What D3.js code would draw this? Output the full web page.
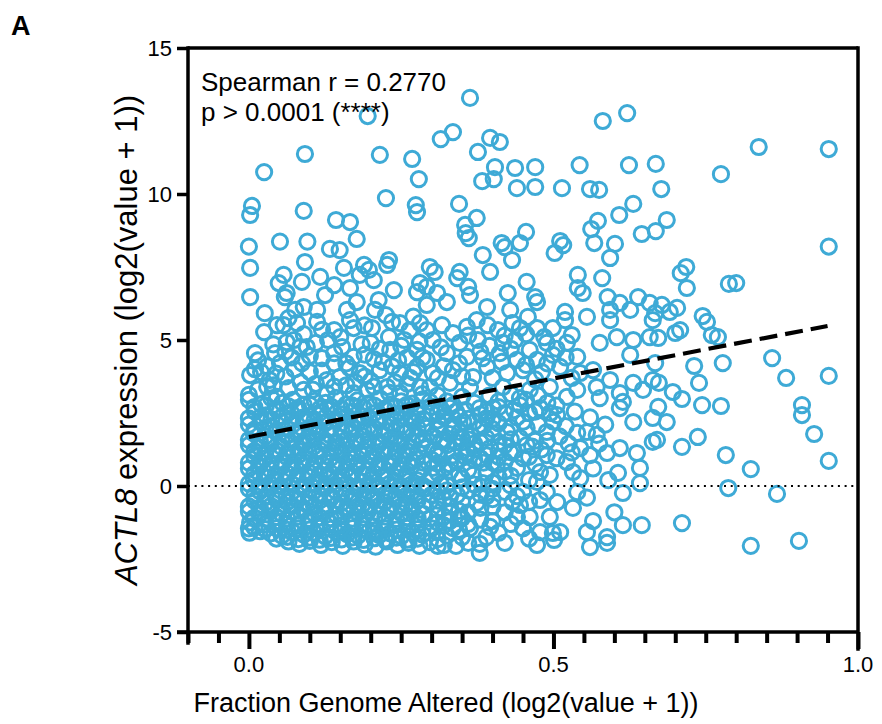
<!DOCTYPE html>
<html>
<head>
<meta charset="utf-8">
<script src="https://cdn.jsdelivr.net/npm/d3@7"></script>
<style>
  body { margin: 0; background: #fff; }
  svg text { font-family: "Liberation Sans", Arial, Helvetica, sans-serif; fill: #000; }
</style>
</head>
<body>
<div id="my_dataviz"></div>
<script>
// axis settings
var xDomain = [-0.1, 1.0];
var yDomain = [-5, 15];
var xTickLabels = ["0.0", "0.5", "1.0"];
var xMajorTicks = [0, 0.5, 1.0];
var yTicks = [-5, 0, 5, 10, 15];

// stats annotation
var statLines = ["Spearman r = 0.2770", "p > 0.0001 (****)"];

// linear fit drawn as the dashed line
var fitIntercept = 1.68, fitSlope = 4.0, fitRange = [0, 0.95];

// [fraction genome altered, ACTL8 expression] -- sparse top part
var topPoints = [
  [0.195,12.67],[0.363,13.29],[0.315,11.88],[0.335,12.12],[0.396,11.92],[0.412,11.78],[0.376,11.44],
  [0.092,11.37],[0.215,11.34],[0.268,11.2],[0.025,10.75],[0.279,10.51],[0.404,10.92],[0.437,10.89],
  [0.383,10.44],[0.402,10.51],[0.44,10.2],[0.225,9.86],[0.345,9.66],[0.274,9.62],[0.276,9.38],
  [0.005,9.59],[0.002,9.28],[0.09,9.42],[0.143,9.11],[0.166,9.04],[0.374,9.18],[0.355,8.94],
  [0.356,8.66],[0.361,8.49],[0.0,8.2],[0.051,8.37],[0.096,8.37],[0.177,8.46],[0.133,8.12],
  [0.149,8.08],[0.415,8.32],[0.42,8.18],[0.445,8.32],[0.516,8.25],[0.502,7.98],
  [0.581,12.5],[0.621,12.77],[0.837,11.61],[0.952,11.54],[0.775,10.68],[0.543,10.99],[0.624,10.99],
  [0.668,11.03],[0.47,10.92],[0.47,10.24],[0.514,10.2],[0.56,10.17],[0.575,10.14],[0.677,10.17],
  [0.631,9.66],[0.608,9.28],[0.686,9.11],[0.573,9.08],[0.562,8.8],[0.455,8.7],[0.645,8.63],
  [0.668,8.73],[0.511,8.39],[0.567,8.32],[0.601,8.29],[0.952,8.2]
];

// upper middle band, roughly 3 to 8
var upperPoints = [
  [0.002,7.47],[0.002,6.47],[0.092,7.67],[0.156,7.47],[0.117,7.16],[0.057,7.23],[0.049,6.95],
  [0.087,6.99],[0.062,6.61],[0.059,6.47],[0.14,6.88],[0.125,6.54],[0.166,6.78],[0.189,7.57],
  [0.197,7.4],[0.182,7.23],[0.205,7.05],[0.227,7.57],[0.23,7.74],[0.238,6.71],[0.281,6.95],
  [0.276,6.64],[0.026,5.92],[0.076,6.03],[0.09,6.13],[0.112,6.03],[0.177,6.3],[0.213,6.37],
  [0.207,6.03],[0.161,6.03],[0.025,5.27],[0.057,5.51],[0.046,5.51],[0.079,5.58],[0.112,5.62],
  [0.14,5.34],[0.166,5.68],[0.172,5.41],[0.202,5.41],[0.235,5.62],[0.248,5.58],[0.264,5.34],
  [0.281,5.58],[0.01,4.55],[0.043,4.55],[0.074,5.0],[0.084,4.76],[0.095,4.76],[0.062,4.93],
  [0.153,4.76],[0.172,4.42],[0.232,4.66],[0.255,5.0],[0.276,4.66],[0.051,4.21],[0.087,4.21],
  [0.12,4.38],[0.002,3.8],[0.034,3.63],[0.03,3.39],[0.0,3.12],[0.046,3.05],[0.09,3.29],
  [0.128,3.63],[0.149,3.73],[0.182,3.87],[0.215,3.97],[0.248,3.87],[0.276,4.08],[0.194,3.29],
  [0.227,3.39],[0.128,3.18],[0.172,3.18],[0.248,3.18],[0.281,3.39],
  [0.01,4.0],[0.06,3.75],[0.1,3.9],[0.11,3.5],[0.16,3.45],[0.2,3.6],[0.24,3.55],[0.265,3.7],
  [0.14,4.2],[0.19,4.5],[0.22,4.25],[0.26,4.4],[0.07,4.4],[0.03,4.1],[0.11,4.9],[0.2,4.9],
  [0.23,5.1],[0.28,4.95],[0.13,5.0],
  [0.384,7.91],[0.396,7.33],[0.432,7.74],[0.593,7.81],[0.54,7.23],[0.58,7.12],[0.54,6.78],
  [0.548,6.61],[0.297,7.5],[0.305,7.33],[0.346,7.33],[0.342,7.12],[0.292,6.82],[0.309,6.61],
  [0.36,6.82],[0.363,6.54],[0.456,6.99],[0.425,6.61],[0.47,6.47],[0.473,6.3],[0.589,6.47],
  [0.609,6.27],[0.639,6.47],[0.658,6.27],[0.593,6.03],[0.626,6.03],[0.663,5.68],[0.325,6.3],
  [0.292,6.2],[0.391,6.13],[0.429,6.03],[0.458,5.79],[0.519,5.96],[0.519,5.68],[0.555,5.79],
  [0.593,5.68],[0.292,5.34],[0.317,5.51],[0.335,5.24],[0.358,5.45],[0.374,5.68],[0.392,5.51],
  [0.409,5.34],[0.433,5.58],[0.445,5.41],[0.473,5.41],[0.499,5.41],[0.53,5.17],[0.576,4.9],
  [0.604,5.1],[0.631,5.0],[0.658,5.1],[0.302,5.0],[0.346,4.9],[0.376,5.0],[0.417,4.9],
  [0.437,5.0],[0.461,4.66],[0.489,4.9],[0.522,4.9],[0.292,4.32],[0.325,4.55],[0.358,4.42],
  [0.384,4.38],[0.412,4.55],[0.44,4.32],[0.473,4.32],[0.499,4.49],[0.539,4.42],[0.626,4.49],
  [0.302,3.87],[0.335,3.97],[0.368,3.73],[0.391,4.08],[0.424,3.87],[0.45,3.97],[0.481,3.9],
  [0.511,4.08],[0.544,3.87],[0.565,3.97],[0.593,3.63],[0.631,3.53],[0.663,3.63],[0.297,3.39],
  [0.33,3.53],[0.363,3.39],[0.417,3.39],[0.461,3.29],[0.494,3.39],[0.539,3.29],[0.571,3.39],
  [0.609,3.18],[0.647,3.29]
];

// extra points where the cloud is crowded between 3 and 6
var upperFill = [
  [0.015,3.3],[0.04,3.45],[0.065,3.35],[0.085,3.55],[0.105,3.3],[0.14,3.4],[0.175,3.55],[0.205,3.4],
  [0.23,3.2],[0.26,3.5],[0.285,3.15],[0.02,3.9],[0.045,3.85],[0.075,4.0],[0.12,3.95],[0.165,4.05],
  [0.19,3.75],[0.235,4.1],[0.27,3.9],[0.015,4.3],[0.06,4.6],[0.1,4.45],[0.14,4.55],[0.16,4.2],
  [0.205,4.35],[0.245,4.3],[0.285,4.4],[0.04,4.85],[0.09,5.2],[0.15,5.1],[0.185,4.85],[0.215,4.7],
  [0.25,4.8],[0.19,5.5],[0.12,5.35],[0.065,5.75],[0.27,5.8],[0.225,5.85],
  [0.31,3.7],[0.32,4.1],[0.345,4.2],[0.35,3.75],[0.38,4.6],[0.4,3.7],[0.415,4.25],[0.43,4.7],
  [0.455,4.15],[0.47,3.65],[0.49,4.2],[0.505,4.7],[0.315,4.75],[0.36,5.15],[0.395,4.8],[0.42,5.15],
  [0.455,5.2],[0.485,5.1],[0.52,4.4],[0.53,3.7]
];

// dense core, left part of the cloud
var corePoints = [
  [0.0,2.95],[0.02,2.8],[0.037,3.0],[0.055,2.85],[0.072,2.95],[0.09,2.78],[0.108,2.92],[0.126,2.85],
  [0.143,3.02],[0.16,2.8],[0.178,2.93],[0.197,2.83],[0.215,3.0],[0.232,2.78],[0.25,2.9],[0.268,2.82],[0.285,2.97],
  [0.01,2.55],[0.028,2.42],[0.046,2.6],[0.063,2.48],[0.081,2.58],[0.099,2.4],[0.117,2.52],[0.134,2.62],
  [0.152,2.45],[0.17,2.55],[0.188,2.38],[0.206,2.5],[0.224,2.6],[0.241,2.44],[0.259,2.56],[0.277,2.47],[0.31,2.52],[0.323,2.4],
  [0.0,2.1],[0.019,2.2],[0.036,2.05],[0.054,2.18],[0.072,2.1],[0.09,2.22],[0.107,2.03],[0.125,2.15],
  [0.144,2.25],[0.161,2.08],[0.179,2.17],[0.196,2.02],[0.214,2.2],[0.233,2.12],[0.25,2.05],[0.267,2.24],[0.286,2.1],[0.352,2.2],
  [0.008,1.8],[0.027,1.7],[0.045,1.85],[0.062,1.72],[0.08,1.78],[0.098,1.68],[0.116,1.84],[0.133,1.74],
  [0.151,1.66],[0.169,1.8],[0.187,1.7],[0.205,1.86],[0.222,1.75],[0.24,1.67],[0.258,1.82],[0.276,1.73],[0.303,1.7],[0.33,1.78],[0.365,1.72],
  [0.0,1.4],[0.018,1.32],[0.036,1.45],[0.053,1.35],[0.071,1.28],[0.089,1.43],[0.106,1.34],[0.124,1.46],
  [0.142,1.3],[0.16,1.38],[0.177,1.47],[0.195,1.33],[0.213,1.42],[0.231,1.28],[0.249,1.4],[0.266,1.32],[0.284,1.45],[0.34,1.5],
  [0.009,1.02],[0.026,0.95],[0.044,1.08],[0.063,0.98],[0.081,1.05],[0.097,0.92],[0.115,1.02],[0.134,0.96],
  [0.152,1.08],[0.168,0.94],[0.186,1.04],[0.204,0.97],[0.221,1.1],[0.239,0.95],[0.257,1.03],[0.275,0.92],[0.312,1.02],[0.355,1.0],[0.38,0.95],
  [0.0,0.6],[0.017,0.68],[0.035,0.56],[0.053,0.65],[0.07,0.58],[0.088,0.7],[0.107,0.6],[0.125,0.54],
  [0.143,0.66],[0.16,0.58],[0.178,0.7],[0.196,0.55],[0.213,0.63],[0.231,0.72],[0.248,0.57],[0.266,0.66],[0.283,0.55],[0.32,0.6],
  [0.008,0.22],[0.026,0.3],[0.043,0.18],[0.061,0.27],[0.08,0.2],[0.097,0.32],[0.115,0.17],[0.133,0.26],
  [0.151,0.2],[0.169,0.3],[0.186,0.15],[0.204,0.25],[0.222,0.32],[0.24,0.18],[0.258,0.27],[0.276,0.2],[0.3,0.3],[0.35,0.25],[0.41,0.3],
  [0.0,-0.1],[0.018,-0.18],[0.035,-0.06],[0.052,-0.15],[0.07,-0.22],[0.089,-0.1],[0.106,-0.2],[0.124,-0.08],
  [0.142,-0.16],[0.16,-0.24],[0.178,-0.1],[0.195,-0.18],[0.213,-0.05],[0.231,-0.2],[0.249,-0.12],[0.267,-0.22],[0.285,-0.1],[0.31,-0.2],[0.36,-0.15],
  [0.009,-0.5],[0.027,-0.58],[0.045,-0.45],[0.063,-0.55],[0.08,-0.48],[0.098,-0.6],[0.116,-0.5],[0.134,-0.44],
  [0.152,-0.58],[0.17,-0.5],[0.187,-0.62],[0.205,-0.47],[0.223,-0.55],[0.24,-0.44],[0.258,-0.6],[0.277,-0.5],[0.32,-0.45],
  [0.0,-0.88],[0.018,-0.95],[0.036,-0.85],[0.054,-0.96],[0.071,-0.88],[0.089,-0.82],[0.107,-0.95],[0.125,-0.87],
  [0.143,-0.98],[0.161,-0.84],[0.179,-0.92],[0.196,-0.86],[0.214,-0.97],[0.232,-0.85],[0.25,-0.93],[0.268,-0.84],[0.286,-0.95],[0.345,-0.85],
  [0.002,-1.25],[0.026,-1.32],[0.045,-1.22],[0.062,-1.3],[0.08,-1.35],[0.098,-1.24],[0.116,-1.32],[0.133,-1.27],
  [0.151,-1.36],[0.169,-1.23],[0.187,-1.3],[0.205,-1.38],[0.223,-1.25],[0.241,-1.33],[0.259,-1.22],[0.277,-1.3],[0.31,-1.25],
  [0.0,-1.45],[0.001,-1.6],[0.018,-1.55],[0.036,-1.62],[0.054,-1.7],[0.072,-1.58],[0.09,-1.66],[0.107,-1.6],
  [0.125,-1.72],[0.143,-1.57],[0.161,-1.65],[0.179,-1.7],[0.197,-1.56],[0.214,-1.68],[0.232,-1.62],[0.25,-1.72],[0.268,-1.58],[0.285,-1.66],
  [0.065,-1.9],[0.083,-1.98],[0.1,-1.88],[0.118,-2.02],[0.136,-1.92],[0.154,-2.05],[0.172,-1.9],[0.19,-2.0],
  [0.208,-2.08],[0.226,-1.9],[0.244,-2.02],[0.262,-1.95],[0.28,-2.05]
];

// second staggered layer in the core, where the rings overlap into a solid patch
var coreFill = [
  [0.009,2.7],[0.028,2.76],[0.046,2.66],[0.064,2.74],[0.081,2.68],[0.1,2.78],[0.117,2.66],[0.135,2.72],
  [0.152,2.64],[0.169,2.76],[0.188,2.69],[0.206,2.75],[0.223,2.65],[0.241,2.71],[0.259,2.78],[0.276,2.67],[0.3,2.72],[0.33,2.68],
  [0.0,2.32],[0.019,2.36],[0.037,2.28],[0.055,2.38],[0.072,2.3],[0.09,2.35],[0.108,2.27],[0.126,2.36],
  [0.143,2.3],[0.161,2.38],[0.179,2.29],[0.197,2.34],[0.215,2.28],[0.232,2.37],[0.25,2.31],[0.268,2.36],[0.286,2.29],[0.345,2.38],[0.39,2.32],
  [0.009,1.93],[0.027,1.98],[0.045,1.9],[0.063,1.97],[0.081,1.91],[0.099,1.99],[0.116,1.92],[0.134,1.96],
  [0.152,1.89],[0.17,1.98],[0.188,1.92],[0.206,1.97],[0.224,1.9],[0.242,1.96],[0.26,1.91],[0.277,1.99],[0.31,1.93],[0.335,2.0],[0.4,1.95],
  [0.0,1.58],[0.018,1.55],[0.036,1.6],[0.054,1.53],[0.072,1.59],[0.09,1.54],[0.107,1.61],[0.125,1.56],
  [0.143,1.52],[0.161,1.6],[0.178,1.55],[0.196,1.58],[0.214,1.52],[0.232,1.6],[0.25,1.56],[0.268,1.54],[0.286,1.6],[0.32,1.55],[0.35,1.62],[0.38,1.5],
  [0.009,1.2],[0.027,1.16],[0.045,1.22],[0.063,1.15],[0.081,1.21],[0.098,1.17],[0.116,1.23],[0.134,1.16],
  [0.152,1.2],[0.17,1.14],[0.188,1.22],[0.205,1.18],[0.223,1.24],[0.241,1.15],[0.259,1.21],[0.277,1.17],[0.305,1.22],[0.35,1.18],[0.37,1.25],[0.41,1.2],
  [0.0,0.8],[0.018,0.84],[0.036,0.78],[0.054,0.82],[0.071,0.77],[0.089,0.85],[0.107,0.79],[0.125,0.83],
  [0.143,0.76],[0.161,0.84],[0.179,0.8],[0.197,0.86],[0.214,0.78],[0.232,0.83],[0.25,0.77],[0.268,0.84],[0.286,0.8],[0.31,0.78],[0.34,0.84],[0.4,0.8],
  [0.009,0.42],[0.027,0.46],[0.044,0.4],[0.062,0.45],[0.08,0.39],[0.098,0.47],[0.116,0.41],[0.134,0.44],
  [0.152,0.38],[0.17,0.46],[0.187,0.42],[0.205,0.45],[0.223,0.39],[0.241,0.47],[0.259,0.41],[0.277,0.44],[0.31,0.45],[0.345,0.4],[0.42,0.5],
  [0.0,0.08],[0.017,0.02],[0.035,0.07],[0.052,0.0],[0.071,0.06],[0.089,0.03],[0.106,0.09],[0.124,0.01],
  [0.142,0.05],[0.16,0.08],[0.178,0.0],[0.196,0.06],[0.213,0.03],[0.231,0.08],[0.249,0.01],[0.267,0.06],[0.285,0.02],[0.315,0.07],[0.37,0.05],[0.4,0.12],
  [0.009,-0.32],[0.027,-0.36],[0.044,-0.3],[0.062,-0.35],[0.08,-0.29],[0.098,-0.37],[0.116,-0.31],[0.134,-0.34],
  [0.152,-0.28],[0.17,-0.36],[0.188,-0.31],[0.205,-0.35],[0.223,-0.29],[0.241,-0.37],[0.259,-0.32],[0.277,-0.34],[0.3,-0.3],[0.33,-0.38],[0.39,-0.35],
  [0.0,-0.7],[0.018,-0.74],[0.036,-0.68],[0.054,-0.73],[0.071,-0.67],[0.089,-0.75],[0.107,-0.69],[0.125,-0.72],
  [0.143,-0.66],[0.161,-0.74],[0.179,-0.7],[0.197,-0.73],[0.214,-0.67],[0.232,-0.75],[0.25,-0.69],[0.268,-0.72],[0.286,-0.68],[0.33,-0.7],[0.38,-0.75],
  [0.009,-1.08],[0.027,-1.12],[0.045,-1.06],[0.063,-1.11],[0.081,-1.05],[0.099,-1.13],[0.116,-1.07],[0.134,-1.1],
  [0.152,-1.04],[0.17,-1.12],[0.188,-1.08],[0.206,-1.11],[0.224,-1.05],[0.242,-1.13],[0.26,-1.07],[0.277,-1.1],[0.32,-1.05],[0.35,-1.1],
  [0.009,-1.42],[0.027,-1.48],[0.045,-1.44],[0.063,-1.5],[0.081,-1.45],[0.099,-1.49],[0.116,-1.43],[0.134,-1.47],
  [0.152,-1.5],[0.17,-1.44],[0.188,-1.48],[0.206,-1.52],[0.224,-1.45],[0.242,-1.49],[0.26,-1.43],[0.277,-1.48],[0.3,-1.45],[0.345,-1.5],
  [0.045,-1.8],[0.063,-1.74],[0.081,-1.82],[0.099,-1.77],[0.116,-1.84],[0.134,-1.78],[0.152,-1.83],[0.17,-1.76],
  [0.188,-1.85],[0.206,-1.79],[0.224,-1.83],[0.242,-1.77],[0.26,-1.84],[0.277,-1.8],[0.31,-1.82]
];

// right half of the cloud below 3
var lowerPoints = [
  [0.297,2.88],[0.335,2.77],[0.379,2.67],[0.401,2.67],[0.445,2.77],[0.478,2.67],[0.506,2.43],[0.445,3.01],
  [0.522,3.05],[0.576,3.01],[0.609,2.67],[0.631,2.19],[0.663,2.33],[0.614,2.88],[0.292,1.99],[0.314,2.09],
  [0.346,1.85],[0.379,1.99],[0.424,1.85],[0.456,1.99],[0.489,1.85],[0.539,1.82],[0.555,1.85],[0.571,1.75],
  [0.544,1.3],[0.56,1.06],[0.588,1.13],[0.609,1.3],[0.637,1.13],[0.663,1.51],[0.292,1.3],[0.325,1.4],
  [0.358,1.3],[0.396,1.3],[0.429,1.16],[0.456,1.4],[0.489,1.06],[0.522,0.82],[0.302,0.62],[0.342,0.82],
  [0.368,0.38],[0.407,0.72],[0.44,0.62],[0.478,0.48],[0.494,0.38],[0.532,0.48],[0.544,0.27],[0.606,0.45],
  [0.642,0.62],[0.642,0.1],[0.292,-0.07],[0.325,0.03],[0.384,0.1],[0.429,0.03],[0.473,0.14],[0.489,-0.21],
  [0.614,-0.24],[0.297,-0.55],[0.342,-0.31],[0.374,-0.58],[0.433,-0.55],[0.445,-0.65],[0.478,-0.48],
  [0.539,-0.21],[0.506,-0.55],[0.532,-0.75],[0.297,-1.1],[0.33,-0.92],[0.335,-1.44],[0.309,-1.58],
  [0.363,-1.44],[0.396,-1.4],[0.44,-1.06],[0.461,-1.06],[0.494,-1.06],[0.478,-1.58],[0.499,-1.61],
  [0.511,-1.58],[0.473,-2.02],[0.379,-1.98],[0.379,-2.29],[0.32,-2.02],[0.501,-1.85],[0.555,-1.58],
  [0.56,-2.09],[0.588,-1.95],[0.588,-1.75],[0.614,-1.34],[0.645,-1.34],[0.297,-1.92],
  [0.3,2.5],[0.32,2.35],[0.34,2.55],[0.36,2.3],[0.38,2.45],[0.4,2.3],[0.42,2.5],[0.44,2.35],[0.46,2.5],
  [0.36,1.6],[0.39,1.65],[0.41,1.5],[0.43,1.6],[0.47,1.55],[0.3,0.9],[0.33,0.75],[0.37,0.9],[0.39,1.05],
  [0.42,0.85],[0.45,0.95],[0.47,0.75],[0.3,0.35],[0.33,0.5],[0.36,0.55],[0.39,0.45],[0.43,0.35],[0.46,0.2],
  [0.35,-0.05],[0.4,-0.1],[0.45,-0.2],[0.31,-0.8],[0.36,-0.9],[0.4,-0.7],[0.42,-0.9],[0.33,-1.2],
  [0.38,-1.15],[0.41,-1.6],[0.45,-1.45],[0.35,-1.75],[0.42,-1.95],[0.46,-1.8]
];

// extra points in the middle of the cloud (0.3 - 0.6)
var lowerFill = [
  [0.31,3.1],[0.325,2.9],[0.35,3.05],[0.37,2.85],[0.395,3.1],[0.41,2.9],[0.43,3.15],[0.455,2.95],
  [0.475,3.1],[0.49,2.85],[0.505,2.75],[0.315,2.65],[0.355,2.6],[0.39,2.55],[0.41,2.7],[0.435,2.6],
  [0.47,2.55],[0.495,2.5],[0.31,2.25],[0.335,2.1],[0.37,2.2],[0.385,2.05],[0.41,2.15],[0.43,2.0],
  [0.45,2.2],[0.475,2.1],[0.5,2.2],[0.52,2.05],[0.315,1.55],[0.345,1.65],[0.37,1.45],[0.4,1.8],
  [0.42,1.4],[0.445,1.65],[0.465,1.35],[0.49,1.55],[0.51,1.7],[0.525,1.45],[0.31,1.15],[0.335,1.05],
  [0.36,1.15],[0.385,0.8],[0.41,1.0],[0.435,1.2],[0.46,1.0],[0.48,1.25],[0.505,0.95],
  [0.31,-0.5],[0.325,-0.15],[0.35,-0.55],[0.38,-0.3],[0.4,-0.45],[0.42,-0.2],[0.44,-0.35],[0.46,-0.55],
  [0.32,-1.35],[0.345,-1.1],[0.36,-1.3],[0.4,-1.2],[0.43,-1.3],[0.325,-1.7],[0.36,-1.95],[0.39,-1.75],
  [0.34,-2.05],[0.31,-2.05],
  [0.535,2.55],[0.56,2.35],[0.585,2.1],[0.53,1.15],[0.565,0.6],[0.575,1.45],[0.555,-0.4],[0.59,0.2],
  [0.6,-0.9],[0.565,-1.2]
];

// far right, sparse
var rightPoints = [
  [0.718,7.5],[0.709,7.29],[0.719,6.78],[0.788,6.92],[0.8,6.95],[0.678,6.2],[0.691,5.96],[0.703,6.1],
  [0.667,5.92],[0.745,5.82],[0.752,5.62],[0.7,5.24],[0.708,5.34],[0.76,5.17],[0.77,5.1],[0.672,5.07],
  [0.731,4.11],[0.778,4.21],[0.859,4.38],[0.882,3.7],[0.952,3.77],[0.739,3.53],[0.667,4.21],[0.673,3.53],
  [0.696,3.22],[0.711,2.98],[0.744,2.77],[0.775,2.74],[0.908,2.77],[0.908,2.43],[0.928,1.78],[0.952,0.86],
  [0.672,2.71],[0.686,2.19],[0.67,1.58],[0.711,1.34],[0.737,1.68],[0.783,1.06],[0.824,0.58],[0.787,-0.07],
  [0.867,-0.27],[0.711,-1.27],[0.824,-2.05],[0.903,-1.88]
];

var allPoints = topPoints.concat(upperPoints, upperFill, corePoints, coreFill, lowerPoints, lowerFill, rightPoints);

// set the dimensions and margins of the graph
var margin = {top: 48, right: 24, bottom: 92, left: 188},
  width = 882 - margin.left - margin.right,
  height = 724 - margin.top - margin.bottom;

var svg = d3.select("#my_dataviz")
  .append("svg")
    .attr("width", 882)
    .attr("height", 724);

var g = svg.append("g")
  .attr("transform", "translate(" + margin.left + "," + margin.top + ")");

var x = d3.scaleLinear().domain(xDomain).range([0, width]);
var y = d3.scaleLinear().domain(yDomain).range([height, 0]);

var blue = "#3eaad6";

// points
g.append("g")
  .selectAll("circle")
  .data(allPoints)
  .enter().append("circle")
    .attr("cx", d => x(d[0]))
    .attr("cy", d => y(d[1]))
    .attr("r", 7.6)
    .attr("fill", "none")
    .attr("stroke", blue)
    .attr("stroke-width", 3);

// zero reference line
g.append("line")
  .attr("x1", 0).attr("x2", width)
  .attr("y1", y(0)).attr("y2", y(0))
  .attr("stroke", "#000")
  .attr("stroke-width", 2)
  .attr("stroke-dasharray", "2,4.7");

// fit line
g.append("line")
  .attr("x1", x(fitRange[0])).attr("y1", y(fitIntercept + fitSlope * fitRange[0]))
  .attr("x2", x(fitRange[1])).attr("y2", y(fitIntercept + fitSlope * fitRange[1]))
  .attr("stroke", "#000")
  .attr("stroke-width", 4.2)
  .attr("stroke-dasharray", "18,8");

// frame: top and right lines
var lw = 3.5;
g.append("line")
  .attr("x1", 0).attr("x2", width).attr("y1", 0).attr("y2", 0)
  .attr("stroke", "#000").attr("stroke-width", lw);
g.append("line")
  .attr("x1", width).attr("x2", width).attr("y1", 0).attr("y2", height + 17)
  .attr("stroke", "#000").attr("stroke-width", lw).attr("stroke-linecap", "square");

// y axis
var yAxis = g.append("g")
  .call(d3.axisLeft(y).tickValues(yTicks).tickSize(11).tickPadding(5).tickFormat(d => String(d)));
yAxis.select(".domain").remove();
g.append("line")
  .attr("x1", 0).attr("x2", 0).attr("y1", 0).attr("y2", height + 11)
  .attr("stroke", "#000").attr("stroke-width", lw).attr("stroke-linecap", "square");
yAxis.selectAll(".tick line").attr("stroke", "#000").attr("stroke-width", lw);
yAxis.selectAll(".tick text").style("font-size", "22px").attr("dy", "0.36em");

// x axis along the bottom of the frame
var xMinor = d3.range(-0.1, 1.0001, 0.05).map(v => +v.toFixed(2));
var xAxis = g.append("g")
  .attr("transform", "translate(0," + height + ")")
  .call(d3.axisBottom(x).tickValues(xMinor).tickSize(11).tickFormat(""));
xAxis.select(".domain").remove();
xAxis.selectAll(".tick line")
  .attr("stroke", "#000").attr("stroke-width", 4)
  .attr("y2", d => xMajorTicks.indexOf(d) >= 0 ? 17 : 11);
g.append("line")
  .attr("x1", -11).attr("x2", width).attr("y1", height).attr("y2", height)
  .attr("stroke", "#000").attr("stroke-width", lw);

g.append("g")
  .selectAll("text")
  .data(xMajorTicks)
  .enter().append("text")
    .attr("x", d => x(d))
    .attr("y", height + 40)
    .attr("text-anchor", "middle")
    .style("font-size", "22px")
    .text((d, i) => xTickLabels[i]);

// stats text
g.append("g")
  .selectAll("text")
  .data(statLines)
  .enter().append("text")
    .attr("x", 13)
    .attr("y", (d, i) => 43 + i * 30)
    .style("font-size", "26px")
    .text(d => d);

// axis titles
svg.append("text")
  .attr("x", 446)
  .attr("y", 712)
  .attr("text-anchor", "middle")
  .style("font-size", "27px")
  .text("Fraction Genome Altered (log2(value + 1))");

var yTitle = svg.append("text")
  .attr("transform", "translate(137," + (margin.top + height / 2) + ") rotate(-90)")
  .attr("text-anchor", "middle")
  .style("font-size", "31px");
yTitle.append("tspan").style("font-style", "italic").text("ACTL8");
yTitle.append("tspan").text(" expression (log2(value + 1))");

// panel letter
svg.append("text")
  .attr("x", 11)
  .attr("y", 35)
  .style("font-size", "27px")
  .style("font-weight", "bold")
  .text("A");
</script>
</body>
</html>
